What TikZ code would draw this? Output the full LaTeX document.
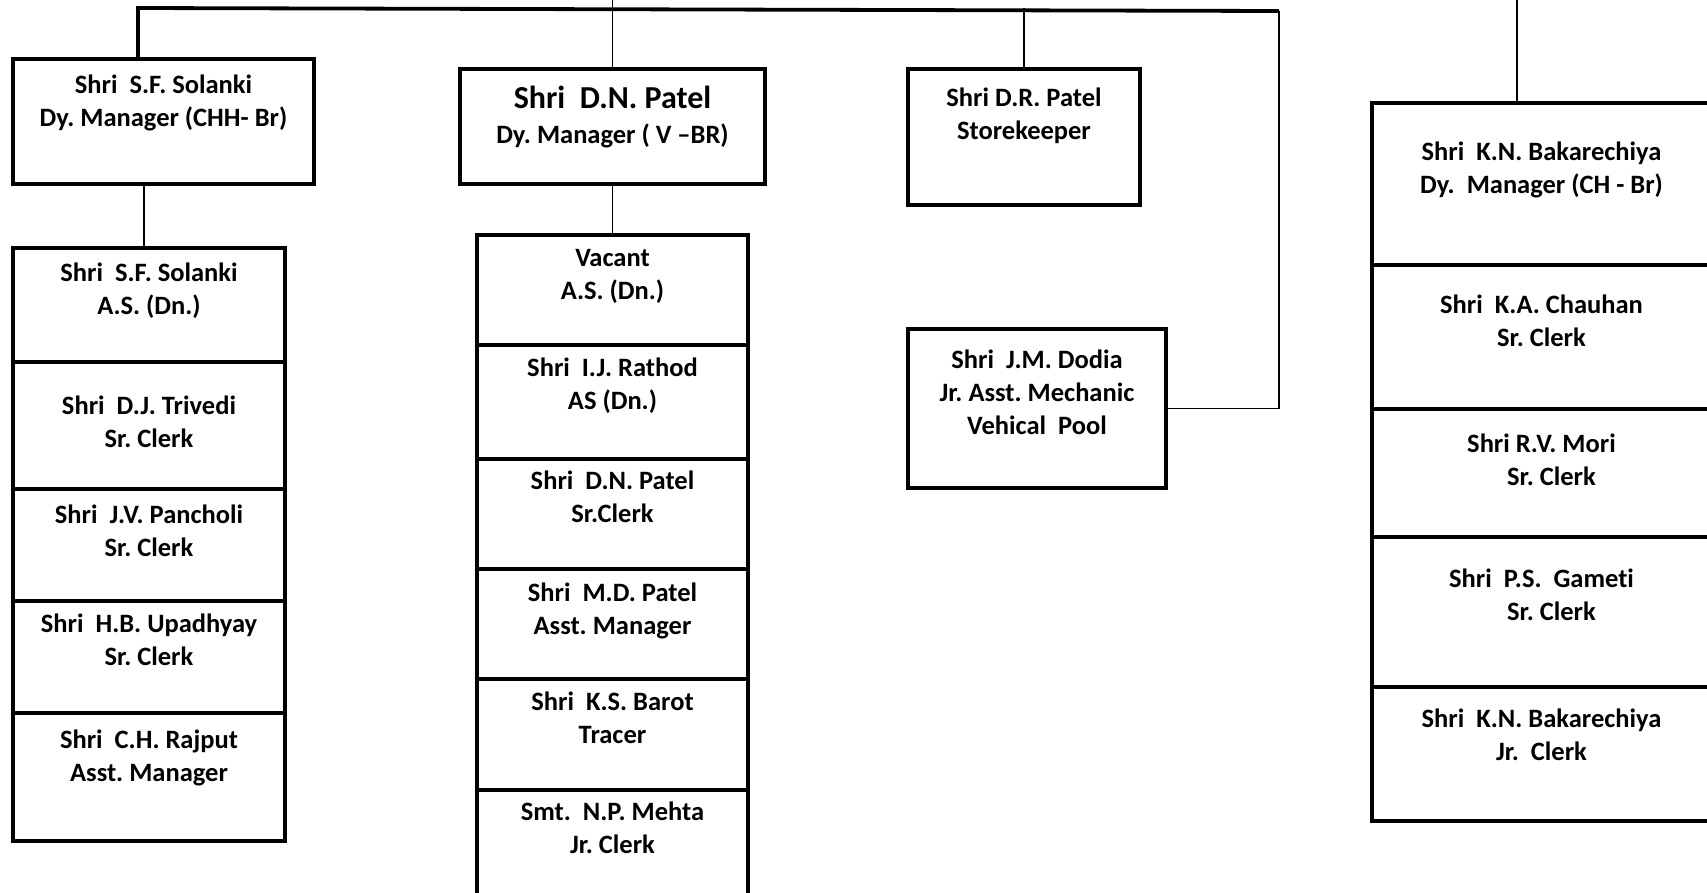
\documentclass[tikz,border=0pt]{standalone}
\usepackage{fontspec}
\setmainfont{Carlito}[Ligatures=NoCommon]
\frenchspacing
\begin{document}
\begin{tikzpicture}[x=1pt, y=-1pt,
  cellbox/.style={draw, line width=3.6pt, outer sep=0pt, inner sep=0pt, anchor=north west},
  celltext/.style={anchor=north, inner sep=0pt, align=center, font=\fontsize{26.5}{33}\selectfont\bfseries},
  bus/.style={line width=3.8pt},
  link/.style={line width=1.4pt}]
\useasboundingbox (0,0) rectangle (1707,892);
\clip (0,0) rectangle (1707,892);

\node[cellbox, minimum width=301, minimum height=125, label={[celltext, label distance=-16pt]north:Shri~ S.F. Solanki\\Dy. Manager (CHH- Br)}] (dm1) at (13,59) {};
\node[cellbox, minimum width=305, minimum height=115, label={[celltext, label distance=-17pt]north:{\fontsize{32}{36}\selectfont Shri~ D.N. Patel}\\[2pt]Dy. Manager ( V –BR)}] (dm2) at (460,69) {};
\node[cellbox, minimum width=232, minimum height=136, label={[celltext, label distance=-19pt]north:Shri D.R. Patel\\Storekeeper}] (sk) at (908,69) {};
\node[cellbox, minimum width=258, minimum height=159, label={[celltext, label distance=-21pt]north:Shri~ J.M. Dodia\\Jr. Asst. Mechanic\\Vehical~ Pool}] (mech) at (908,329) {};

\node[cellbox, minimum width=272, minimum height=114, label={[celltext, label distance=-15pt]north:Shri~ S.F. Solanki\\A.S. (Dn.)}] (c1a) at (13,248) {};
\node[cellbox, minimum width=272, minimum height=127, label={[celltext, label distance=-34pt]north:Shri~ D.J. Trivedi\\Sr. Clerk}] (c1b) at (13,362) {};
\node[cellbox, minimum width=272, minimum height=112, label={[celltext, label distance=-16pt]north:Shri~ J.V. Pancholi\\Sr. Clerk}] (c1c) at (13,489) {};
\node[cellbox, minimum width=272, minimum height=112, label={[celltext, label distance=-13pt]north:Shri~ H.B. Upadhyay\\Sr. Clerk}] (c1d) at (13,601) {};
\node[cellbox, minimum width=272, minimum height=128, label={[celltext, label distance=-17pt]north:Shri~ C.H. Rajput\\Asst. Manager}] (c1e) at (13,713) {};

\node[cellbox, minimum width=271, minimum height=110, label={[celltext, label distance=-14pt]north:Vacant\\A.S. (Dn.)}] (c2a) at (477,235) {};
\node[cellbox, minimum width=271, minimum height=114, label={[celltext, label distance=-13pt]north:Shri~ I.J. Rathod\\AS (Dn.)}] (c2b) at (477,345) {};
\node[cellbox, minimum width=271, minimum height=110, label={[celltext, label distance=-12pt]north:Shri~ D.N. Patel\\Sr.Clerk}] (c2c) at (477,459) {};
\node[cellbox, minimum width=271, minimum height=110, label={[celltext, label distance=-14pt]north:Shri~ M.D. Patel\\Asst. Manager}] (c2d) at (477,569) {};
\node[cellbox, minimum width=271, minimum height=111, label={[celltext, label distance=-13pt]north:Shri~ K.S. Barot\\Tracer}] (c2e) at (477,679) {};
\node[cellbox, minimum width=271, minimum height=120, label={[celltext, label distance=-12pt]north:Smt.~ N.P. Mehta\\Jr. Clerk}] (c2f) at (477,790) {};

\node[cellbox, minimum width=339, minimum height=162, label={[celltext, label distance=-39pt]north:Shri~ K.N. Bakarechiya\\Dy.~ Manager (CH - Br)}] (c3a) at (1372,103) {};
\node[cellbox, minimum width=339, minimum height=144, label={[celltext, label distance=-30pt]north:Shri~ K.A. Chauhan\\Sr. Clerk}] (c3b) at (1372,265) {};
\node[cellbox, minimum width=339, minimum height=128, label={[celltext, label distance=-25pt]north:Shri R.V. Mori\\\hspace*{20pt}Sr. Clerk}] (c3c) at (1372,409) {};
\node[cellbox, minimum width=339, minimum height=150, label={[celltext, label distance=-32pt]north:Shri~ P.S.~ Gameti\\\hspace*{20pt}Sr. Clerk}] (c3d) at (1372,537) {};
\node[cellbox, minimum width=339, minimum height=134, label={[celltext, label distance=-22pt]north:Shri~ K.N. Bakarechiya\\Jr.~ Clerk}] (c3e) at (1372,687) {};

\coordinate (busl) at (138,8);
\coordinate (busr) at (1279,11);
\coordinate (up2) at (612.5,-4);
\coordinate (up3) at (1517,-4);

\draw[bus] (busl |- dm1.north) -- (busl) -- (busr);
\draw[link] (busr) |- (mech.east);
\draw[link] (sk.north) -- (sk.north |- busl);
\draw[link] (up2) -- (dm2.north);
\draw[link] (up3) -- (up3 |- c3a.north);
\draw[link] ([xshift=-5pt]c1a.north) -- ([xshift=-5pt]c1a.north |- dm1.south);
\draw[link] (dm2.south) -- (c2a.north);
\end{tikzpicture}
\end{document}
